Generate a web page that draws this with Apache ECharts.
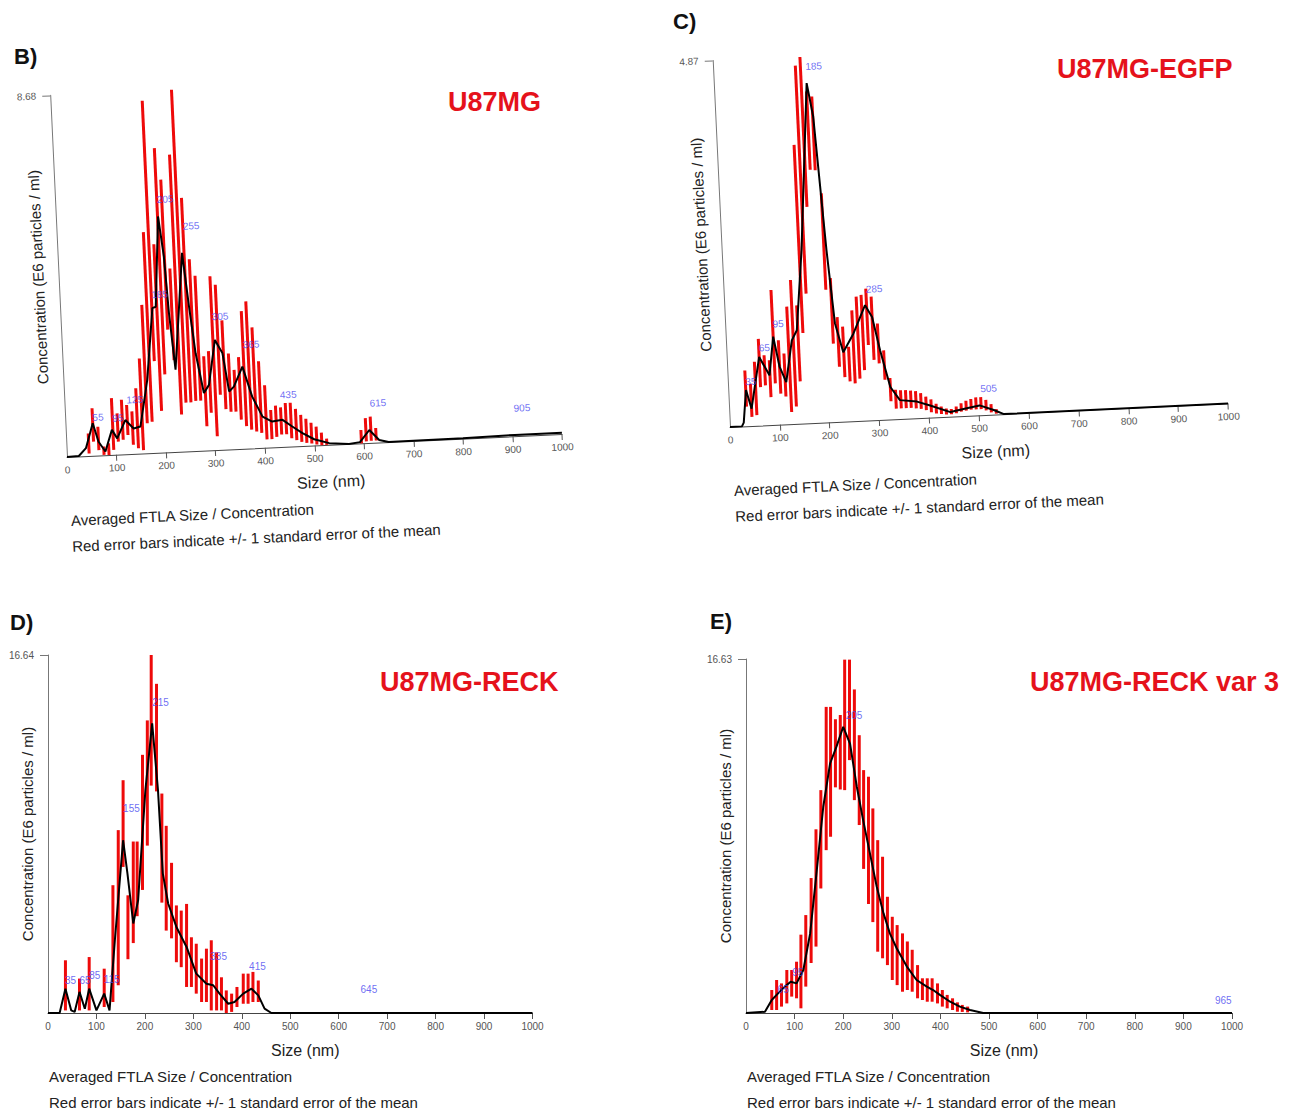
<!DOCTYPE html>
<html>
<head>
<meta charset="utf-8">
<script src="https://cdn.jsdelivr.net/npm/echarts@6/dist/echarts.min.js"></script>
<style>
  html, body { margin: 0; padding: 0; background: #fff; }
  .layer { position: absolute; left: 0; top: 0; width: 1302px; height: 1113px; }
</style>
</head>
<body>
<div class="layer" id="page"></div>
<div class="layer" id="pB"></div>
<div class="layer" id="pC"></div>
<div class="layer" id="pD"></div>
<div class="layer" id="pE"></div>
<script>
// ---- B) U87MG ----
const sizeB = [0, 24, 39, 55, 65, 78, 93, 103, 121, 137, 151, 169, 186, 193, 206, 214, 219, 227, 251, 260, 269, 282, 293, 309, 323, 333, 343, 362, 379, 398, 417, 438, 457, 477, 500, 530, 570, 592, 612, 631, 650, 800, 905, 1000]
const meanB = [0, 0.01, 0.19, 0.78, 0.33, 0.09, 0.6, 0.39, 0.82, 0.61, 0.65, 1.76, 3.47, 3.5, 5.66, 4.7, 3.34, 1.97, 4.76, 3.47, 2.34, 1.38, 1.57, 2.64, 2.32, 1.39, 1.5, 1.97, 1.24, 0.75, 0.62, 0.65, 0.48, 0.31, 0.15, 0.04, 0, 0.03, 0.31, 0.06, 0, 0.01, 0.03, 0.03]
const barSizeB = [45, 55, 65, 75, 85, 95, 105, 115, 125, 135, 145, 155, 165, 175, 185, 195, 205, 215, 225, 235, 245, 255, 265, 275, 285, 295, 305, 315, 325, 335, 345, 355, 365, 375, 385, 395, 405, 415, 425, 435, 445, 455, 465, 475, 485, 495, 505, 515, 525, 595, 605, 615, 625]
const barLoB = [0.06, 0.34, 0.13, 0.01, 0, 0.12, 0.31, 0.35, 0.46, 0.22, 0.13, 0.08, 0.72, 0.75, 2.2, 1.0, 1.87, 2.94, 2.2, 0.89, 1.17, 1.17, 1.2, 1.2, 0.58, 0.9, 0.33, 1.32, 0.97, 0.9, 0.9, 0.7, 0.54, 0.45, 0.4, 0.36, 0.2, 0.2, 0.25, 0.3, 0.3, 0.2, 0.15, 0.1, 0.07, 0.05, 0.02, 0, 0, 0, 0.04, 0.05, 0.05]
const barHiB = [0.54, 1.14, 0.69, 0.21, 0.28, 1.36, 0.99, 1.31, 1.18, 1.02, 1.57, 2.28, 3.56, 5.3, 8.45, 5.0, 7.3, 6.54, 4.4, 7.13, 8.68, 6.08, 4.6, 4.2, 2.26, 2.38, 4.17, 3.96, 3.1, 2.3, 1.9, 2.2, 3.3, 3.53, 2.9, 2.08, 1.5, 0.9, 1.0, 0.95, 1.05, 1.05, 0.9, 0.75, 0.65, 0.55, 0.45, 0.3, 0.15, 0.32, 0.6, 0.63, 0.35]
const peakSizeB = [55, 95, 125, 185, 205, 255, 305, 365, 435, 615, 905]
const peakYB = [0.92, 0.88, 1.3, 3.79, 6.07, 5.4, 3.2, 2.49, 1.25, 0.95, 0.67]

// ---- C) U87MG-EGFP ----
const sizeC = [0, 24, 28, 35.5, 45, 65, 84, 95, 105, 117, 132, 143, 160, 186, 196, 203, 210, 220, 234, 256, 282, 295, 308, 325, 343, 377, 403, 443, 476, 502, 530, 550, 1000]
const meanC = [0, 0, 0.05, 0.48, 0.23, 0.91, 0.66, 1.17, 0.77, 0.56, 1.11, 1.24, 2.3, 4.51, 4.06, 3.17, 2.28, 1.31, 0.92, 1.16, 1.53, 1.37, 0.92, 0.43, 0.25, 0.22, 0.16, 0.06, 0.1, 0.13, 0.06, 0, 0]
const barSizeC = [35, 45, 55, 65, 75, 85, 95, 105, 115, 125, 135, 145, 155, 165, 175, 185, 195, 205, 215, 225, 235, 245, 255, 265, 275, 285, 295, 305, 315, 325, 335, 345, 355, 365, 375, 385, 395, 405, 415, 425, 435, 445, 455, 465, 475, 485, 495, 505, 515, 525, 535]
const barLoC = [0.26, 0.12, 0.14, 0.51, 0.53, 0.37, 0.55, 0.41, 0.37, 0.16, 0.23, 0.56, 1.2, 1.72, 2.87, 3.36, 3.35, 1.76, 1.04, 0.73, 0.59, 0.53, 0.5, 0.56, 0.67, 1.0, 0.8, 0.75, 0.53, 0.24, 0.14, 0.14, 0.14, 0.14, 0.13, 0.12, 0.1, 0.07, 0.05, 0.04, 0.03, 0.03, 0.04, 0.06, 0.07, 0.08, 0.08, 0.08, 0.06, 0.03, 0.01]
const barHiC = [0.74, 0.56, 0.85, 1.15, 0.93, 0.86, 1.79, 1.12, 0.94, 1.56, 1.91, 1.57, 3.7, 4.75, 4.86, 4.4, 4.33, 3.04, 1.91, 1.39, 1.26, 0.99, 1.47, 1.65, 1.67, 1.75, 1.64, 1.28, 0.92, 0.55, 0.39, 0.38, 0.38, 0.37, 0.36, 0.33, 0.28, 0.24, 0.18, 0.14, 0.11, 0.1, 0.13, 0.17, 0.2, 0.22, 0.24, 0.24, 0.2, 0.14, 0.07]
const peakSizeC = [35, 65, 95, 185, 285, 505]
const peakYC = [0.59, 1.03, 1.34, 4.73, 1.74, 0.35]

// ---- D) U87MG-RECK ----
const sizeD = [0, 24, 36, 48, 55, 65, 76, 85, 100, 116, 127, 138, 155, 164, 176, 186, 201, 215, 227, 237, 248, 265, 286, 306, 327, 341, 354, 372, 385, 403, 420, 434, 447, 461, 1000]
const meanD = [0, 0, 1.13, 0.12, 0.05, 0.98, 0.2, 1.13, 0.12, 0.9, 0.12, 3.38, 8.03, 6.48, 4.16, 5.24, 10.36, 13.46, 10.36, 6.48, 5.09, 4.0, 3.07, 1.83, 1.36, 1.29, 0.9, 0.43, 0.51, 0.9, 1.13, 0.82, 0.2, 0, 0]
const barSizeD = [36, 65, 85, 116, 134, 145, 155, 165, 176, 184, 195, 205, 213, 224, 235, 244, 255, 265, 275, 286, 296, 306, 317, 327, 337, 348, 358, 368, 379, 390, 403, 413, 423, 434]
const barLoD = [0.12, 0.12, 0.12, 0.28, 0.51, 1.29, 6.79, 2.5, 3.25, 4.5, 5.72, 7.78, 10.57, 10.3, 5.13, 3.83, 3.47, 2.36, 2.13, 1.21, 1.21, 0.9, 0.51, 0.51, 0.12, 0.12, 0.12, 0, 0.05, 0.28, 0.43, 0.43, 0.51, 0.51]
const barHiD = [2.45, 1.6, 2.6, 2.06, 5.94, 8.5, 10.82, 5.47, 7.97, 7.97, 12.0, 13.6, 16.64, 15.3, 10.2, 8.7, 6.98, 5.0, 4.76, 5.07, 3.52, 3.22, 2.53, 2.99, 3.38, 2.82, 1.66, 1.05, 0.9, 1.21, 1.83, 1.83, 1.91, 1.51]
const peakSizeD = [35, 65, 85, 115, 155, 215, 335, 415, 645]
const peakYD = [1.49, 1.49, 1.75, 1.57, 9.5, 14.43, 2.64, 2.17, 1.1]

// ---- E) U87MG-RECK var 3 ----
const sizeE = [0, 39, 53, 66, 80, 92, 104, 118, 132, 145, 159, 173, 186, 200, 214, 228, 241, 255, 269, 283, 296, 310, 331, 351, 372, 385, 399, 420, 440, 461, 488, 1000]
const meanE = [0, 0.06, 0.61, 0.92, 1.24, 1.47, 1.39, 2.02, 3.74, 6.56, 9.69, 11.72, 12.5, 13.44, 12.66, 10.63, 9.06, 7.5, 5.93, 4.68, 3.74, 3.04, 2.18, 1.55, 1.24, 1.08, 0.85, 0.53, 0.3, 0.14, 0, 0]
const barSizeE = [53, 63, 73, 84, 94, 104, 113, 123, 134, 144, 154, 165, 174, 184, 194, 203, 213, 223, 233, 242, 252, 261, 271, 281, 291, 301, 311, 322, 332, 342, 353, 363, 373, 383, 394, 404, 414, 425, 435, 445, 456]
const barLoE = [0.14, 0.14, 0.3, 0.45, 0.77, 0.69, 0.22, 1.24, 2.35, 3.12, 5.85, 7.65, 8.28, 10.6, 10.5, 10.47, 11.88, 10.0, 8.83, 6.77, 5.12, 4.27, 2.88, 2.57, 2.25, 1.55, 1.31, 1.0, 1.08, 1.0, 0.69, 0.61, 0.53, 0.53, 0.45, 0.3, 0.22, 0.14, 0.06, 0.05, 0.03]
const barHiE = [1.08, 1.55, 1.39, 2.02, 2.02, 2.41, 3.68, 4.6, 6.34, 8.63, 10.47, 14.38, 14.38, 13.8, 14.0, 16.6, 16.6, 15.2, 13.05, 11.41, 11.1, 9.61, 8.12, 7.34, 5.46, 4.52, 4.13, 3.74, 3.36, 2.97, 2.25, 1.63, 1.63, 1.63, 1.39, 1.08, 0.85, 0.69, 0.5, 0.38, 0.3]
const peakSizeE = [65, 95, 205, 965]
const peakYE = [1.11, 1.91, 13.99, 0.6]

const xTicks = [0, 100, 200, 300, 400, 500, 600, 700, 800, 900, 1000]

const FONT = '"Liberation Sans", Arial, sans-serif'

// panel frames: origin of the axes on the page, axis lengths, tilt of the scanned figure
const panels = [
  { id: 'pB', ox: 67, oy: 457, w: 495.5, h: 362, rot: -2.66, yMax: 8.68,
    size: sizeB, mean: meanB, barSize: barSizeB, lo: barLoB, hi: barHiB, peakSize: peakSizeB, peakY: peakYB },
  { id: 'pC', ox: 730, oy: 427, w: 498.6, h: 367, rot: -2.7, yMax: 4.87,
    size: sizeC, mean: meanC, barSize: barSizeC, lo: barLoC, hi: barHiC, peakSize: peakSizeC, peakY: peakYC },
  { id: 'pD', ox: 48, oy: 1013, w: 484.5, h: 358, rot: 0, yMax: 16.64,
    size: sizeD, mean: meanD, barSize: barSizeD, lo: barLoD, hi: barHiD, peakSize: peakSizeD, peakY: peakYD },
  { id: 'pE', ox: 746, oy: 1013, w: 486, h: 354, rot: 0, yMax: 16.63,
    size: sizeE, mean: meanE, barSize: barSizeE, lo: barLoE, hi: barHiE, peakSize: peakSizeE, peakY: peakYE },
]

function panelOption(p) {
  return {
    animation: false,
    textStyle: { fontFamily: FONT },
    grid: { left: p.ox, top: p.oy - p.h, width: p.w, height: p.h },
    xAxis: {
      type: 'value', min: 0, max: 1000, interval: 100,
      name: 'Size (nm)', nameLocation: 'middle', nameGap: 29, nameMoveOverlap: false,
      nameTextStyle: { fontSize: 16, color: '#222', padding: [0, 0, 0, 30] },
      splitLine: { show: false },
      axisLine: { lineStyle: { color: '#444', width: 1 } },
      axisTick: { length: 6, lineStyle: { color: '#555' }, customValues: xTicks.slice(1) },
      axisLabel: { fontSize: 10, color: '#555', margin: 8, customValues: xTicks, formatter: v => String(v) }
    },
    yAxis: {
      type: 'value', min: 0, max: p.yMax,
      name: 'Concentration (E6 particles / ml)', nameLocation: 'middle', nameGap: 13, nameRotate: 90,
      nameMoveOverlap: false,
      nameTextStyle: { fontSize: 15, color: '#222' },
      splitLine: { show: false },
      axisLine: { show: true, lineStyle: { color: '#777', width: 1 } },
      axisTick: { show: true, length: 8, lineStyle: { color: '#777' }, customValues: [p.yMax] },
      axisLabel: { fontSize: 10, color: '#555', margin: 14, customValues: [p.yMax], formatter: v => v.toFixed(2) }
    },
    graphic: [
      { type: 'text', left: p.ox + 1, top: p.oy + 56,
        style: { text: 'Averaged FTLA Size / Concentration', font: '15px ' + FONT, fill: '#222' } },
      { type: 'text', left: p.ox + 1, top: p.oy + 82,
        style: { text: 'Red error bars indicate +/- 1 standard error of the mean', font: '15px ' + FONT, fill: '#222' } }
    ],
    series: [
      {
        type: 'custom', silent: true, z: 2,
        encode: { x: 0, y: [1, 2] },
        data: p.barSize.map((s, i) => [s, p.lo[i], p.hi[i]]),
        renderItem: (params, api) => {
          const a = api.coord([api.value(0), api.value(1)])
          const b = api.coord([api.value(0), api.value(2)])
          return { type: 'line', shape: { x1: a[0], y1: a[1], x2: b[0], y2: b[1] },
            style: { stroke: '#ee0a0a', lineWidth: 3 } }
        }
      },
      {
        type: 'line', silent: true, z: 3, showSymbol: false, symbol: 'none',
        data: p.size.map((s, i) => [s, p.mean[i]]),
        lineStyle: { color: '#000', width: 2 }
      },
      {
        type: 'scatter', silent: true, z: 4, symbolSize: 0,
        data: p.peakSize.map((s, i) => [s, p.peakY[i]]),
        label: { show: true, position: 'right', distance: 0, fontSize: 10, color: '#4848f0',
          formatter: q => String(q.value[0]) }
      }
    ]
  }
}

panels.forEach(p => {
  const el = document.getElementById(p.id)
  el.style.transformOrigin = p.ox + 'px ' + p.oy + 'px'
  el.style.transform = 'rotate(' + p.rot + 'deg)'
  const chart = echarts.init(el, null, { renderer: 'svg' })
  chart.setOption(panelOption(p))
})

// panel letters and sample names
const letters = ['B)', 'C)', 'D)', 'E)']
const letterPos = [[14, 45], [673, 10], [10, 611], [710, 610]]
const sampleNames = ['U87MG', 'U87MG-EGFP', 'U87MG-RECK', 'U87MG-RECK var 3']
const namePos = [[448, 88], [1057, 55], [380, 668], [1030, 668]]

const page = echarts.init(document.getElementById('page'), null, { renderer: 'svg' })
page.setOption({
  animation: false,
  graphic: letters.map((t, i) => ({
    type: 'text', left: letterPos[i][0], top: letterPos[i][1],
    style: { text: t, font: 'bold 22px ' + FONT, fill: '#111' }
  })).concat(sampleNames.map((t, i) => ({
    type: 'text', left: namePos[i][0], top: namePos[i][1],
    style: { text: t, font: 'bold 27px ' + FONT, fill: '#e5121b' }
  })))
})
</script>
</body>
</html>
